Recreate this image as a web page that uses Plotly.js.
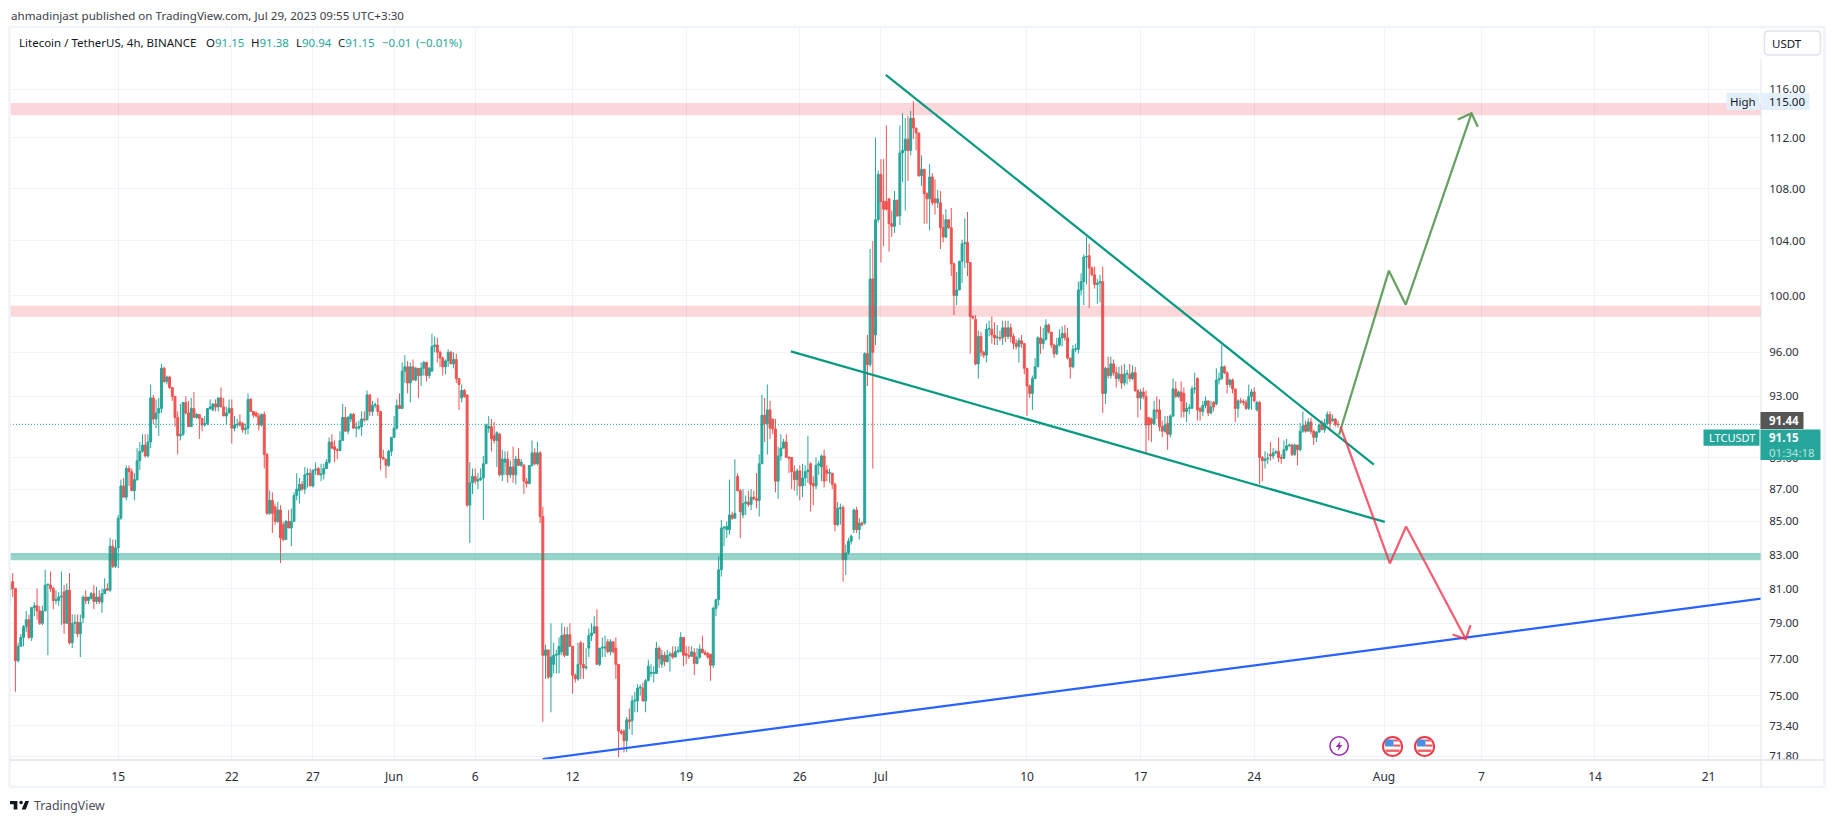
<!DOCTYPE html>
<html><head><meta charset="utf-8">
<script src="https://cdn.plot.ly/plotly-3.0.1.min.js"></script>
<style>html,body{margin:0;padding:0;background:#fff}#c{width:1835px;height:823px}</style>
</head><body><div id="c"></div>
<script>
const opens=[
80.9,81.4,81,76.9,77.7,78.2,78.8,79.2,78.2,79.9,80,79.7,79,79.7,81.2,81.2,81,80.3,80.3,80.5,
80.8,79,80.9,77.9,79,79.05,78.4,79.3,80.5,80.3,80.4,80.7,80.25,80.5,80.2,80.7,81,80.9,83.5,82.3,
83.4,85.2,87.2,86.5,88.3,88.1,86.9,87.6,88.8,89.4,89.8,89.1,90,92.9,91.5,91.9,92.2,94.9,94,94.3,
93.6,93,91.6,90.4,90.5,92.6,91.9,91,92.2,91.6,91.8,91.55,91.1,91.2,92.2,92.1,92.5,92.3,92.9,92.3,
91.7,91.9,92.2,90.9,91.1,91.3,91.2,90.8,90.9,92.8,92,91.9,91.7,91.1,91.8,89.2,85.5,86.3,85.9,85,
85.7,84.8,83.9,85,84.6,85,86.6,86.9,87.3,87,87.9,88,87.2,88.2,88.3,87.9,87.95,88.3,88.7,90,
89.7,89.5,89.45,90.1,91.6,90.7,91.5,91.8,90.9,90.9,91,91.5,91.45,93.1,92,92.4,92.4,92,89,88.9,
88.5,89.4,90.3,90.9,92.4,92.2,94.7,95,93.9,95,94.1,94.9,94.4,94.9,95.3,94.4,94.7,96.4,96.5,96,
95.6,95,95.4,96,95.2,95.5,94.2,92.9,93.4,93.1,86,87.4,87.8,87.5,87.6,87.7,88.6,90.9,91,90.4,
90.1,90.5,87.9,88.7,88.9,87.9,88.4,87.9,88.9,88.5,88.5,87.5,87.35,88.5,89.3,88.6,89.3,85.3,77.2,77.5,
76,76.7,77.2,77.25,77.4,78.35,77.2,78.35,77.7,76.1,75.9,77.9,76.7,76.5,77.6,78.3,78.45,78.8,76.7,77.6,
77.6,77.95,77.4,77.95,77.6,76.7,73.1,73.1,72.6,73.7,73.65,74.7,74.7,75.4,75.4,74.7,75.8,76.2,76.2,76.2,
77.6,76.7,77.2,76.85,77.2,77.3,77.1,77.4,77.4,78.2,77.3,77.2,77.15,77.35,76.75,77.1,77.55,77.35,77.3,77.25,
76.65,79.85,80.35,82.1,84.6,84.5,84.5,85.4,85.2,87.8,86.9,85.4,86.1,86.2,86.05,86.5,86.4,86.3,88.6,91.75,
91.2,92.1,91.5,90.85,87.5,89.1,89.6,90,89,89,88.1,87.6,88.15,87.2,87.7,88.1,88.6,87.35,87.2,88.5,
88.4,89.1,88.2,88,88,87.3,84.8,85.8,85.85,82.7,83.1,83.8,84.5,85.7,84.5,84.9,84.9,95.9,95.15,101.2,
97.2,105.6,109.1,107,107,107.2,105.3,105.1,107.1,105.9,110.8,111,111.9,111,113.6,112.8,112.4,109,109.5,107.6,
107.2,108.9,107.2,106.9,106.9,105,104.3,105.6,105,102.3,100,100.4,102.5,103.8,103.9,102.4,98.5,98.3,95.2,97.1,
96,95.8,97.6,97.6,97.2,97,97,97,97.7,97.1,97.7,97.1,96.6,96.4,96.8,96.6,94.9,93.7,93.2,94.2,
95,97,96.6,96.9,97.9,97.4,96.5,95.9,96.5,97,97.3,97,95.6,95,96.2,96.2,100.4,101,102.8,102.9,
102,101.5,100.8,100.9,101,93.2,94.9,94.4,95.2,94.6,94.2,94.5,93.9,94.5,94.5,94.2,94.6,93.4,92.9,93.3,
93,91.6,91.5,91.2,92.1,92.1,91,90.7,91.2,90.5,91.7,93.5,93,93.3,93.2,92,92.2,92.2,93.5,94.2,
92.2,92,92.4,92.7,91.9,92.6,92.5,94.1,94.2,95,94.6,93.8,94.1,93.5,92.2,92.7,92.65,92.6,92.2,93,
93.3,92.1,92.6,89,88.8,88.9,89.2,89.1,89.3,89.4,89,88.95,89.5,89.75,89.8,89.2,89.8,89.5,90.7,91.1,
90.7,91.3,90.7,90.3,90.65,91.3,90.8,91.2,91.8,91.4,91.5,91.15];
const highs=[
81.7,81.9,81,77.9,78.4,78.9,79.7,79.5,79.9,80.2,81,80,80,82.1,81.2,82,81.1,80.9,80.8,82,
81.2,81.3,81.9,79.5,79.5,79.5,79.5,80.6,80.9,80.5,80.8,81.2,81.1,80.9,81,81.6,81.3,84,83.9,83.9,
85.4,87.6,87.7,88.5,88.5,88.3,88,89.6,90,90.5,90.5,90.5,93.8,93.1,92.8,92.9,95.2,95,94.4,94.4,
93.6,93,92,92.5,92.6,93,92.7,92.9,93.3,91.9,91.8,91.55,91.7,92.2,92.8,92.5,92.8,92.9,93.6,92.9,
92.3,92.8,92.8,91.7,91.5,91.8,91.3,91.2,93.2,92.9,92,92,91.9,91.85,92,89.3,86.9,86.8,86.1,86.2,
86,85,85.1,85.7,85.8,86.8,88,87.7,87.5,88.4,88.3,88.3,88.2,88.7,88.4,88.6,88.6,88.9,90.3,90.5,
90.1,89.6,90.7,92.5,92.3,91.7,91.9,91.9,91.3,91.4,92,92,93.4,93.15,92.7,92.6,92.9,92,89.5,88.9,
89.5,90.3,91.7,92.8,93.2,95.3,95.8,95.4,95.3,95.5,95,94.9,95.3,95.4,95.35,95,97.3,97.1,97,96.1,
95.7,95.5,96.2,96.1,96,95.9,94.2,93.8,93.5,93.1,88.7,88.3,88.3,88,88.3,89.1,91.2,91.7,91.5,91.3,
90.7,90.6,89.5,89.4,89.4,88.8,89.7,89.1,89.6,88.9,88.6,87.7,88.5,90.1,89.6,90,89.4,85.9,77.8,77.5,
79,77.9,77.5,78.2,79,78.8,78.8,79,77.7,76.2,77.9,78,77.9,77.6,78.7,79,79.4,79.8,77.6,78.2,
78.3,78.1,78.1,78,78.2,76.7,73.2,73.2,73.85,74.3,75,75.2,75.6,75.6,75.7,75.9,76.95,76.7,76.6,77.95,
77.7,77.5,77.4,77.5,77.4,77.7,77.7,77.7,78.5,78.2,77.7,77.7,77.7,77.6,77.6,77.8,78.3,77.5,77.4,77.3,
79.95,80.4,82.9,85.1,84.7,85,87.6,85.6,88.9,88,87,87,86.6,86.9,87,86.9,88,89.2,93.1,92.9,
93.8,92.7,91.5,91.5,89.7,90.5,90.2,90.5,89.1,89,88.5,88.3,88.5,88.6,88.5,90.4,88.7,87.8,89,88.8,
89.2,89.5,88.5,88.3,88,87.4,86.2,86.1,86,83.6,84,84.2,85.8,85.9,85.2,85,96,97.2,103.4,104,
112,109.4,110.3,110.3,113,107.2,106.3,107.8,107.1,113,114,113.6,113.8,114.2,115,112.8,112.4,110.6,109.5,107.7,
109.9,109.2,108.7,107.9,107.8,106,106.4,105.6,106.5,102.4,101.7,102.5,104.1,105.7,106.2,102.4,98.6,98.6,97.5,97.4,
96.1,98,98.2,98.5,98.1,97.9,97.5,98.2,98.2,98.2,98,97.3,96.9,97,97.2,96.6,94.9,93.8,94.4,95.6,
97.1,97.8,97.7,98.3,98,97.4,96.6,97,97.6,97.8,97.9,97.7,95.6,96.5,96.6,101,101.6,103,104.3,103.8,
102.1,102.1,101.2,101.5,102.1,95,95.7,95.7,95.5,95,95,95.1,95.2,94.8,95.2,95.1,95,93.5,93.5,93.6,
93.4,91.6,91.6,92.7,93,92.8,91.4,91.7,91.7,91.8,94.2,94,93.4,94,93.6,92.6,92.5,93.7,94.6,94.3,
92.3,92.7,93,92.7,92.7,92.7,94.9,94.6,96.5,95.1,94.7,94.2,94.2,93.5,92.8,92.9,92.8,92.8,93.8,93.5,
93.6,92.7,92.7,89.1,89.4,89.3,90,89.6,89.5,90.3,89.2,90.1,90.2,89.9,89.9,89.9,89.8,91.25,92,91.4,
91.55,91.6,90.8,90.7,91.2,91.4,91.5,92,92,91.8,91.55,91.38];
const lows=[
80.2,80.5,75.2,76.8,77.7,77.7,78.5,78.1,78,79.4,79.2,78.9,78.9,79.7,77.2,80.8,79.8,80.1,80,78.9,
78.4,79,77.8,77.6,78.4,78.2,77.1,79,80.1,80.1,80.4,79.8,80.1,80.1,79.6,80.7,80.85,80.8,82.2,82.2,
82.2,85.1,86.5,86.3,87.2,86.9,86.3,87.5,88.2,89.3,89,89,89.6,91.15,90.9,90.4,91.9,93.9,93.8,93.5,
92.7,91,89.2,90.1,90.4,91.8,91,91,91.6,91.5,90.2,90.7,91,91.1,92.1,92,92,92,92.3,91.7,
91.1,91.9,89.9,90.7,90.9,91,90.6,90.5,90.5,92,91.6,91.6,90.75,91,88.3,85.4,85.4,84.3,84.8,84.9,
82.5,83.8,83.9,84.6,83.5,85,86.3,86.1,86.9,86.7,87.1,87.2,87.1,87.9,87.9,87.5,87.6,88.3,88.6,89.6,
88.7,88.9,89.4,90.1,90.7,90.5,91.3,90.9,90.3,90.8,90.4,91.3,91.4,91.7,91.7,92.2,91.7,88.2,88.9,87.7,
88.4,89.1,90.3,90.8,92.2,92.2,93.9,93.2,92.6,94.1,94,92.9,93.7,94.4,94,94.2,94.7,96,95.3,95,
94.4,94.5,95,95.2,94.9,93.9,92.1,92.6,92.9,85.9,83.7,86.7,87.3,87,87.5,85.1,88.6,90.6,89.4,89.9,
88.4,87.8,87.5,87.9,87.4,87.7,87.4,87.3,88.45,88.4,86.7,87.1,87.3,88.4,88.5,88.5,84.9,73.6,75.9,75.9,
74.1,76.2,76.2,76.2,77.2,77.1,77.2,77.7,75.1,75.7,75.8,75.9,75.9,76.4,77.1,78,78.4,76.7,76.6,77.1,
77.1,77.3,77.2,77.3,75.9,71.75,72.9,72,72,73.2,72.9,74.1,74.1,75,74.7,74.1,75.8,76,75.7,76.2,
76.5,76.5,76.6,76.8,76.3,77,77.1,77.3,77.4,76.6,76.7,77,77.1,76.1,76.7,77,77.3,77.2,77,75.8,
76.5,79.4,80,81.7,83.5,84,84.2,85.1,85.2,86.9,84,85.2,85.4,85.9,85.7,86.3,85.8,85.3,88.6,90,
89.2,90.2,90.5,86.8,86.4,88.8,89.6,89,88,87,86.9,86.6,86.3,86.5,87.2,87.4,85.6,86,87,87.9,
87.5,87.1,87.5,87.4,87,84.4,84.7,84.8,81.4,81.8,83,83.6,84.3,84.3,83.9,84.7,84.8,93.7,95,88.3,
96.5,105.4,102.4,103.6,106.3,103.2,104.3,104.6,105.8,105.2,108.5,106.3,108.6,110.6,111.9,111,108.9,108.2,105.3,105.3,
104.8,106.7,106,106.5,103.4,103.9,104.2,104.9,101.4,98.6,99.3,100.4,100.9,102,101.4,95.9,98.3,95.1,94.2,95.7,
95.6,95.3,97.1,96.6,96.5,96.5,96.8,96.5,96.7,96.9,96.7,96.2,96.2,95.3,96.3,94.5,91.7,92.9,92.1,94.2,
95,95.9,96.2,96.8,97.3,96.3,95.6,95.8,96.4,96.4,96.8,95.5,94.2,94.9,96,95.9,100,99.3,100.8,99.1,
101.4,100.5,99.4,99.5,91.9,92.5,94.2,94.2,94.4,93.6,94,93.5,93.7,93.8,94,94.1,93.3,91.6,92.1,92.8,
89.2,90.1,90,91.1,91.5,90.7,90.3,90.6,89.5,90.3,91.6,92.9,92.9,91.6,91.6,91.3,91.8,92.2,93.2,91.4,
91.4,91.7,92.2,91.7,91.8,92,92.4,93.8,94.1,94.5,93.2,93.6,93.2,91.3,91.6,92.5,92.4,92.1,92.1,92.1,
92.6,92,87.3,87.5,88.3,88.6,88.8,88.9,89.2,88.7,88.6,88.9,89.4,89.7,89.1,89.1,88.5,89.4,90.6,90.6,
90.7,90.5,89.8,90,90.6,90.8,90.6,91.1,90.7,91.3,91,90.94];
const closes=[
81.3,81,76.9,77.7,78.2,78.8,79.2,78.2,79.9,80,79.7,79,79.7,81.2,81.25,81,80.3,80.35,80.5,80.55,
79,80.9,77.9,79,79.05,78.4,79.05,80.5,80.3,80.5,80.7,80.25,80.5,80.25,80.7,80.95,80.9,83.5,82.3,83.4,
85.2,87.2,86.5,88.3,88.1,86.9,87.6,88.8,89.4,89.8,89.1,90,92.9,91.5,91.9,92.2,94.9,94,94.3,93.6,
93,91.6,90.4,90.5,92.6,91.9,91,92.2,91.6,91.8,91.55,91.1,91.2,92.2,92.3,92.5,92.3,92.9,92.3,91.7,
91.9,92.2,90.9,91.1,91.15,91.1,90.8,90.9,92.8,92,91.75,91.7,91.1,91.8,89.2,85.5,86.3,85.5,85,85.7,
84,83.9,85,84.6,85,86.6,87,87.3,87,87.9,88,87.2,88.2,88.25,87.9,87.95,88.3,88.7,90,89.6,
89.5,89.45,90.1,91.6,90.7,91.6,91.8,90.9,90.95,91,91.5,91.45,93.1,92,92.4,92.45,92,89,88.9,88.5,
89.4,90.3,90.9,92.4,92.2,94.7,95,93.9,95,94.1,94.9,94.4,94.9,95.3,94.4,94.9,96.4,96.5,96,95.6,
95,95.4,96,95.2,95.5,94.2,93.8,93.4,93,86,87.4,87.8,87.5,87.6,87.7,88.6,91.1,91,90.2,90.1,
90.6,87.9,88.9,88.9,87.9,88.4,87.9,88.9,88.5,88.7,87.5,87.35,88.5,89.3,88.6,89.3,85.3,77.2,77.5,76,
77.1,77.2,77.25,77.7,78.3,77.2,78.35,77.7,76.1,75.9,76.7,76.7,76.5,76.55,78.3,78.45,78.8,76.7,77.6,77.65,
77.65,77.4,77.95,77.4,76.7,73.1,73,72.6,73.7,73.6,74.7,74.75,75.4,75.45,74.7,75.8,76.6,76.25,76.25,77.6,
77,77.2,76.85,77.2,77.25,77.1,77.4,77.45,78.2,77.2,77.2,77.15,77.4,76.75,77.1,77.55,77.35,77.25,77.1,76.65,
79.85,80.35,82.1,84.6,84.65,84.7,85.4,85.2,85.5,86.9,85.6,86.1,86.2,86.05,86.5,86.4,86.3,88.6,91.75,91.2,
92.1,90.9,90.85,87.5,89.1,89.6,90,89,88.95,88.1,87.6,88.15,87.2,87.7,88.1,88.2,87.3,87.2,88.5,88.6,
89.1,87.5,88,88.05,87.3,84.8,85.8,85.85,82.7,83.1,83.8,84.1,85.7,84.5,84.9,84.8,95.9,95.15,101.2,96,
105.6,109.1,107,106.4,106.4,105.3,105.1,107.1,105.9,110.8,111,111.9,111,113.6,112.8,112.4,109,109.5,107.6,107.2,
108.9,106.9,106.9,107.2,105,104.3,105.6,105,102.3,100,100.4,102.5,103.8,103.85,102.4,98.5,98.4,95.2,97.1,96,
95.8,97.6,97.65,97.2,97,97.05,96.95,97.7,97.1,97.7,97.1,96.6,96.4,96.8,96.6,94.9,93.7,93.2,94.2,95,
97,96.6,96.9,97.9,97.4,96.5,95.9,96.5,97,97.3,97,95.6,95,96.2,96.25,100.4,101,102.8,102.85,102,
101.5,100.8,100.9,101,93.2,94.9,94.4,95.2,94.6,94.2,94.5,93.9,94.5,94.55,94.2,94.6,93.4,92.9,93.3,93,
91.1,91.1,91.2,92.1,92,91,90.7,91.1,90.5,91.7,93.5,93,93.3,92.7,92,92.2,92.25,93.5,93.55,92.1,
92,92.4,92.7,91.9,92.3,92.3,94.1,94.2,95,94.6,93.8,94.1,93.5,92.2,92.7,92.65,92.6,92.2,93,93.3,
92.7,92.6,89,88.8,88.9,88.95,89.1,89.3,89.35,89,88.95,89.5,89.75,89.8,89.2,89.8,89.5,90.7,91.05,90.7,
91.3,90.7,90.3,90.65,91.1,90.8,91.2,91.8,91.2,91.5,91.15,91.15];

const firstBar=Date.UTC(2023,4,8,8);
const barHours=4;
const viewStart='2023-05-08 08:00', viewEnd='2023-08-24 05:30';
const priceMin=71.6, priceMax=121.3;
const xTickDates=['2023-05-15','2023-05-22','2023-05-27','2023-06-01','2023-06-06','2023-06-12','2023-06-19','2023-06-26','2023-07-01','2023-07-10','2023-07-17','2023-07-24','2023-08-01','2023-08-07','2023-08-14','2023-08-21'];
const xTickLabels=['15','22','27','Jun','6','12','19','26','Jul','10','17','24','Aug','7','14','21'];
const yTickValues=[116,112,108,104,100,96,93,89,87,85,83,81,79,77,75,73.4,71.8];
const yTickLabels=['116.00','112.00','108.00','104.00','100.00','96.00','93.00','89.00','87.00','85.00','83.00','81.00','79.00','77.00','75.00','73.40','71.80'];
const bandTops=[114.85,99.27,83.1], bandBottoms=[113.85,98.49,82.66];
const bandColors=['rgba(242,54,69,0.2)','rgba(242,54,69,0.2)','rgba(8,153,129,0.42)'];
const lastPrice=91.15;
const upperLineX=['2023-07-01 07:12','2023-07-31 08:53'], upperLineY=[117.2,88.55];
const lowerLineX=['2023-06-25 10:48','2023-08-01 01:10'], lowerLineY=[96.06,84.97];
const blueLineX=['2023-06-10 03:36','2023-08-24 06:14'], blueLineY=[71.65,80.41];
const greenPathX=['2023-07-29 05:30','2023-08-01 07:12','2023-08-02 08:10','2023-08-06 09:22','2023-08-05 13:12','2023-08-06 09:22','2023-08-06 18:43'];
const greenPathY=[90.47,101.8,99.34,114,113.5,114,112.9];
const redPathX=['2023-07-29 07:40','2023-08-01 08:38','2023-08-02 08:38','2023-08-06 00:58','2023-08-05 05:17','2023-08-06 00:58','2023-08-06 07:55'];
const redPathY=[91,82.47,84.69,78.1,78.36,78.1,78.89];

const fmt=t=>new Date(t).toISOString().slice(0,16).replace('T',' ');
const barTimes=opens.map((_,i)=>fmt(firstBar+i*barHours*3600e3));

const L=10,R=1761.5,T=27,B=760;
const px=x=>(x-L)/(R-L), py=y=>1-(y-T)/(B-T);
const FONT='"Noto Sans", sans-serif';
const UP='#26a69a',DN='#ef5350',CHROME='#e0e3eb',BORDER='#f0f3fa';

const traces=[{type:'candlestick',x:barTimes,open:opens,high:highs,low:lows,close:closes,
  increasing:{line:{color:UP,width:1},fillcolor:UP},decreasing:{line:{color:DN,width:1},fillcolor:DN},
  whiskerwidth:0,hoverinfo:'skip',showlegend:false}];
const line=(x,y,color,extra)=>({type:'scatter',mode:'lines',x,y,line:Object.assign({color,width:2.25},extra||{}),hoverinfo:'skip',showlegend:false});
traces.push(line([viewStart,viewEnd],[lastPrice,lastPrice],UP,{width:1,dash:'1px,2px'}));
bandTops.forEach((t,i)=>traces.push({type:'scatter',mode:'lines',x:[viewStart,viewEnd,viewEnd,viewStart],y:[t,t,bandBottoms[i],bandBottoms[i]],fill:'toself',fillcolor:bandColors[i],line:{width:0},hoverinfo:'skip',showlegend:false}));
traces.push(line(upperLineX,upperLineY,'#089981'));
traces.push(line(lowerLineX,lowerLineY,'#089981'));
traces.push(line(blueLineX,blueLineY,'#2962ff'));
traces.push(line(greenPathX,greenPathY,'rgba(76,145,70,0.85)'));
traces.push(line(redPathX,redPathY,'rgba(242,54,80,0.8)'));

const rect=(x0,y0,x1,y1,fill,lineColor,w)=>({type:'rect',xref:'paper',yref:'paper',x0:px(x0),x1:px(x1),y0:py(y0),y1:py(y1),fillcolor:fill,line:{color:lineColor||fill,width:w===undefined?0:w},layer:'above'});
const seg=(x0,y0,x1,y1,c,w)=>({type:'line',xref:'paper',yref:'paper',x0:px(x0),x1:px(x1),y0:py(y0),y1:py(y1),line:{color:c,width:w},layer:'above'});
const shapes=[
 seg(9.5,27,1825,27,BORDER,2.5),seg(9.5,787,1825,787,BORDER,2.5),seg(9.5,27,9.5,787,BORDER,2.5),seg(1825,27,1825,787,BORDER,2.5),
 seg(1761.5,59,1761.5,787,CHROME,1),seg(10,760,1825,760,CHROME,1.5),
 rect(1727,93,1760,110,'#e3effd'),rect(1762,93,1810,110,'#e3effd'),
 rect(1761,412,1804,429,'#555555'),
 rect(1704,429.5,1760,445.7,UP),rect(1761,429.5,1821,460,UP),
 {type:'path',xref:'paper',yref:'paper',path:`M ${px(1769)} ${py(31)} L ${px(1817)} ${py(31)} Q ${px(1821)} ${py(31)} ${px(1821)} ${py(35)} L ${px(1821)} ${py(51)} Q ${px(1821)} ${py(55)} ${px(1817)} ${py(55)} L ${px(1769)} ${py(55)} Q ${px(1765)} ${py(55)} ${px(1765)} ${py(51)} L ${px(1765)} ${py(35)} Q ${px(1765)} ${py(31)} ${px(1769)} ${py(31)} Z`,fillcolor:'#fff',line:{color:CHROME,width:1.5},layer:'above'}
];
const note=(x,y,text,size,color,anchor,extra)=>Object.assign({xref:'paper',yref:'paper',x:px(x),y:py(y),text,showarrow:false,xanchor:anchor||'left',yanchor:'middle',font:{family:FONT,size,color},borderpad:0},extra||{});
const teal=s=>`<span style="color:${UP}">${s}</span>`;
const annotations=[
 note(10,15,'ahmadinjast published on TradingView.com, Jul 29, 2023 09:55 UTC+3:30',11.6,'#3a3d46'),
 note(18,42,'Litecoin / TetherUS, 4h, BINANCE',11.5,'#131722'),
 note(205,42,'O'+teal('91.15'),11.5,'#131722'),note(250,42,'H'+teal('91.38'),11.5,'#131722'),
 note(294.7,42,'L'+teal('90.94'),11.5,'#131722'),note(337.5,42,'C'+teal('91.15'),11.5,'#131722'),
 note(381.5,42,teal('−0.01'),11.5,UP),note(415,42,teal('(−0.01%)'),11.5,UP),
 note(1788,43,'USDT',11.5,'#131722','center'),
 note(1743.5,101.5,'High',11.5,'#131722','center'),note(1769,101.5,'115.00',11.5,'#131722'),
 note(1769,420.5,'<b>91.44</b>',11.5,'#ffffff'),
 note(1708,437.5,'LTCUSDT',11,'#ffffff'),
 note(1769,437.5,'<b>91.15</b>',11.5,'#ffffff'),note(1769,452,'01:34:18',11.5,'#b5e3dd'),
 note(33.5,805,'TradingView',12.3,'#4a4e5a')
];
const uri=s=>'data:image/svg+xml;base64,'+btoa(s);
const bolt=`<svg xmlns="http://www.w3.org/2000/svg" width="44" height="44" viewBox="0 0 22 22"><circle cx="11" cy="11" r="9.6" fill="#fff" stroke="#9c27b0" stroke-width="1.6"/><path d="M12.5 5.5 L7.5 12 H10.6 L9.4 16.5 L14.5 10 H11.4 Z" fill="#9c27b0"/></svg>`;
const flag=`<svg xmlns="http://www.w3.org/2000/svg" width="44" height="44" viewBox="0 0 22 22"><circle cx="11" cy="11" r="9.6" fill="#fff" stroke="#f23645" stroke-width="2"/><rect x="3.5" y="4" width="8.5" height="7" fill="#4a90e2"/><rect x="12" y="4" width="6.5" height="2" fill="#f0606a"/><rect x="12" y="9" width="7" height="2.2" fill="#f0606a"/><rect x="4" y="14" width="14" height="2.4" fill="#f0606a"/></svg>`;
const logo=`<svg xmlns="http://www.w3.org/2000/svg" width="72" height="40" viewBox="0 0 36 20"><path d="M14 2H0v6h7v10h7V2Zm16 16h-8l7-16h7l-6 16Zm-9-10a3.4 3.4 0 1 0 0-6.8 3.4 3.4 0 0 0 0 6.8Z" fill="#131722"/></svg>`;
const img=(x,y,w,h,src)=>({source:uri(src),xref:'paper',yref:'paper',x:px(x),y:py(y),sizex:w/(R-L),sizey:h/(B-T),xanchor:'left',yanchor:'top',sizing:'stretch',layer:'above'});
const images=[img(1329,735.5,21,21,bolt),img(1382,735.5,22,22,flag),img(1414,735.5,22,22,flag),img(10,800,19,10.5,logo)];

const layout={width:1835,height:823,margin:{l:L,r:1835-R,t:T,b:823-B,pad:0},paper_bgcolor:'#fff',plot_bgcolor:'#fff',showlegend:false,
 hovermode:false,boxgap:0.3,boxgroupgap:0,font:{family:FONT,size:12,color:'#131722'},
 xaxis:{type:'date',range:[viewStart,viewEnd],rangeslider:{visible:false},tickmode:'array',tickvals:xTickDates,ticktext:xTickLabels,
   showgrid:true,gridcolor:BORDER,gridwidth:1,zeroline:false,showline:false,ticks:'outside',ticklen:6,tickcolor:'rgba(0,0,0,0)',tickfont:{family:FONT,size:12,color:'#2a2e39'}},
 yaxis:{type:'log',side:'right',range:[Math.log10(priceMin),Math.log10(priceMax)],tickmode:'array',tickvals:yTickValues,ticktext:yTickLabels,
   showgrid:true,gridcolor:BORDER,gridwidth:1,zeroline:false,showline:false,ticks:'outside',ticklen:5,tickcolor:'rgba(0,0,0,0)',tickfont:{family:FONT,size:11.5,color:'#2a2e39'}},
 shapes,annotations,images};
Plotly.newPlot('c',traces,layout,{displayModeBar:false,staticPlot:true});
</script></body></html>
